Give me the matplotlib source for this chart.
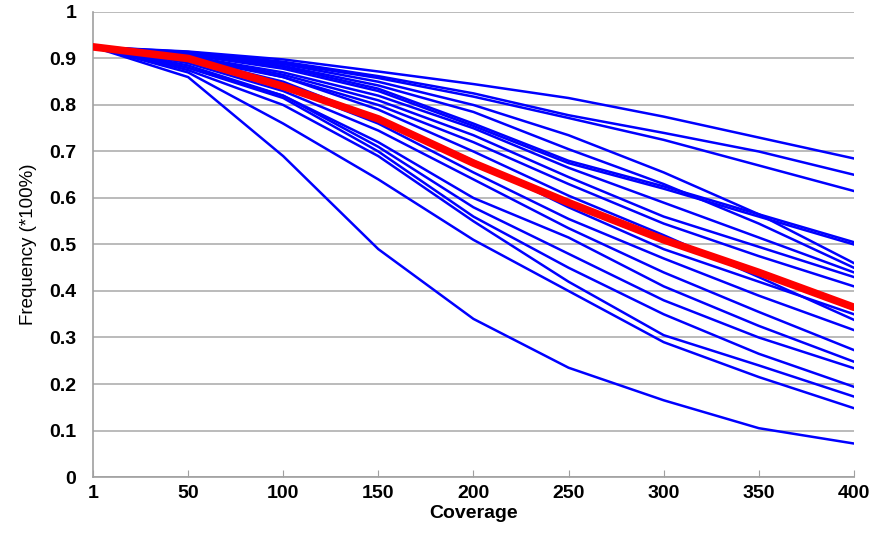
import numpy as np
import matplotlib.pyplot as plt

coverage = ["1", "50", "100", "150", "200", "250", "300", "350", "400"]

# individual samples (blue)
samples = [
    [0.925, 0.915, 0.898, 0.872, 0.845, 0.815, 0.775, 0.730, 0.685],
    [0.925, 0.914, 0.893, 0.862, 0.825, 0.778, 0.740, 0.700, 0.650],
    [0.925, 0.912, 0.890, 0.858, 0.818, 0.772, 0.725, 0.670, 0.615],
    [0.925, 0.912, 0.888, 0.850, 0.800, 0.735, 0.655, 0.565, 0.460],
    [0.925, 0.910, 0.884, 0.842, 0.785, 0.705, 0.630, 0.545, 0.450],
    [0.925, 0.910, 0.882, 0.835, 0.760, 0.680, 0.625, 0.565, 0.505],
    [0.925, 0.908, 0.878, 0.830, 0.755, 0.675, 0.620, 0.560, 0.500],
    [0.925, 0.905, 0.870, 0.820, 0.750, 0.665, 0.590, 0.515, 0.440],
    [0.925, 0.905, 0.865, 0.810, 0.735, 0.645, 0.560, 0.495, 0.430],
    [0.925, 0.900, 0.860, 0.800, 0.720, 0.630, 0.545, 0.475, 0.410],
    [0.925, 0.900, 0.850, 0.770, 0.680, 0.580, 0.490, 0.420, 0.350],
    [0.925, 0.905, 0.860, 0.790, 0.700, 0.605, 0.520, 0.430, 0.338],
    [0.925, 0.895, 0.840, 0.760, 0.655, 0.555, 0.470, 0.390, 0.316],
    [0.925, 0.890, 0.830, 0.745, 0.640, 0.535, 0.440, 0.355, 0.273],
    [0.925, 0.885, 0.820, 0.720, 0.600, 0.515, 0.410, 0.325, 0.248],
    [0.925, 0.880, 0.820, 0.710, 0.580, 0.480, 0.380, 0.300, 0.234],
    [0.925, 0.880, 0.815, 0.700, 0.560, 0.450, 0.350, 0.265, 0.194],
    [0.925, 0.875, 0.800, 0.690, 0.550, 0.420, 0.305, 0.240, 0.173],
    [0.925, 0.870, 0.760, 0.640, 0.510, 0.400, 0.290, 0.215, 0.148],
    [0.925, 0.860, 0.690, 0.490, 0.340, 0.235, 0.165, 0.105, 0.072],
]

# average (red)
mean_line = [0.925, 0.900, 0.840, 0.770, 0.675, 0.590, 0.510, 0.440, 0.365]

yticks = [0, 0.1, 0.2, 0.3, 0.4, 0.5, 0.6, 0.7, 0.8, 0.9, 1]

plt.rcParams['font.family'] = ['Liberation Sans', 'DejaVu Sans']

fig = plt.figure(figsize=(8.74, 5.35), dpi=100)
ax = fig.add_axes([0.1064, 0.1084, 0.8706, 0.8692])

x = np.arange(len(coverage))
for s in samples:
    ax.plot(x, s, color='#0000ff', lw=1.8, solid_joinstyle='round')
ax.plot(x, mean_line, color='#ff0000', lw=5.5, solid_capstyle='round', zorder=5)

ax.set_xlim(0, len(coverage) - 1)
ax.set_ylim(0, 1)
ax.set_yticks(yticks)
ax.set_yticklabels(['%g' % v for v in yticks])
ax.set_xticks(x)
ax.set_xticklabels(coverage)

ax.yaxis.grid(True, color='#a8a8a8', lw=1.1)
ax.set_axisbelow(True)
for side in ['top', 'right']:
    ax.spines[side].set_visible(False)
for side in ['left', 'bottom']:
    ax.spines[side].set_color('#a0a0a0')
    ax.spines[side].set_linewidth(1.2)

ax.tick_params(axis='y', length=0, pad=12, labelsize=14)
ax.tick_params(axis='x', direction='in', length=5, color='#a0a0a0', pad=6, labelsize=14)
for lab in ax.get_xticklabels() + ax.get_yticklabels():
    lab.set_fontweight('bold')

ax.set_xlabel('Coverage', fontsize=14, fontweight='bold', labelpad=2)
ax.set_ylabel('Frequency (*100%)', fontsize=13.5, labelpad=9)

fig.savefig('out.png', dpi=100)
